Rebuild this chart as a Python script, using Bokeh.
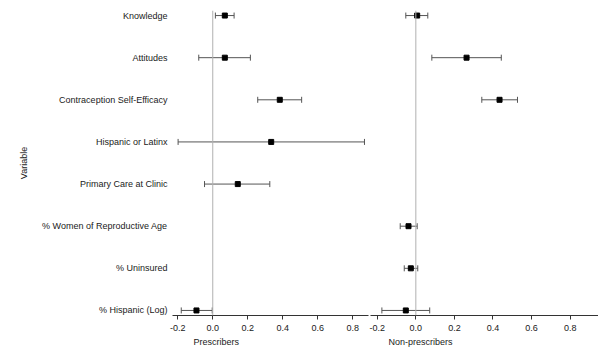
from bokeh.plotting import figure
from bokeh.layouts import row
from bokeh.models import (ColumnDataSource, Whisker, TeeHead, Span, Range1d,
                          FixedTicker, NumeralTickFormatter, Title)
from bokeh.embed import file_html
from bokeh.resources import INLINE

variables = ["Knowledge", "Attitudes", "Contraception Self-Efficacy",
             "Hispanic or Latinx", "Primary Care at Clinic",
             "% Women of Reproductive Age", "% Uninsured", "% Hispanic (Log)"]

presc_est = [0.069, 0.069, 0.383, 0.334, 0.143, None, None, -0.093]
presc_lo = [0.015, -0.080, 0.257, -0.198, -0.047, None, None, -0.180]
presc_hi = [0.122, 0.215, 0.508, 0.867, 0.326, None, None, -0.003]

nonp_est = [0.007, 0.263, 0.434, None, None, -0.038, -0.026, -0.052]
nonp_lo = [-0.052, 0.083, 0.342, None, None, -0.081, -0.060, -0.176]
nonp_hi = [0.062, 0.443, 0.527, None, None, 0.007, 0.010, 0.072]

x_ticks = [-0.2, 0.0, 0.2, 0.4, 0.6, 0.8]
panel_titles = ["Prescribers", "Non-prescribers"]

FONT = "Liberation Sans"
TXT = "#1a1a1a"


def make_panel(est, lo, hi, title, width, x_range, left_border, show_y, title_offset):
    idx = [i for i, e in enumerate(est) if e is not None]
    src = ColumnDataSource(dict(
        y=[i for i in idx],
        est=[est[i] for i in idx],
        lo=[lo[i] for i in idx],
        hi=[hi[i] for i in idx],
    ))
    p = figure(width=width, height=347, output_backend="svg", toolbar_location=None,
               x_range=Range1d(*x_range), y_range=Range1d(7.12, -0.12),
               y_axis_location="left" if show_y else None,
               min_border_left=left_border, min_border_right=1 if show_y else 0,
               min_border_top=10, min_border_bottom=32)
    p.outline_line_color = None
    p.xgrid.grid_line_color = None
    p.ygrid.grid_line_color = None
    p.background_fill_color = "white"
    p.border_fill_color = "white"

    p.add_layout(Span(location=0, dimension="height", line_color="#b0b0b0", line_width=1))

    w = Whisker(source=src, base="y", lower="lo", upper="hi", dimension="width",
                line_color="#555555", line_width=1,
                upper_head=TeeHead(size=6, line_color="#555555", line_width=1),
                lower_head=TeeHead(size=6, line_color="#555555", line_width=1))
    p.add_layout(w)
    p.scatter(x="est", y="y", source=src, marker="square", size=5,
              fill_color="black", line_color="black")

    xa = p.xaxis[0]
    xa.ticker = FixedTicker(ticks=x_ticks)
    xa.formatter = NumeralTickFormatter(format="0.0")
    xa.minor_tick_line_color = None
    xa.major_tick_in = 0
    xa.major_tick_out = 4
    xa.axis_line_color = "#333333"
    xa.major_tick_line_color = "#333333"
    xa.major_label_text_font = FONT
    xa.major_label_text_font_size = "9px"
    xa.major_label_text_color = TXT
    xa.major_label_standoff = 5

    if show_y:
        ya = p.yaxis[0]
        ya.ticker = FixedTicker(ticks=list(range(len(variables))))
        ya.major_label_overrides = {i: v for i, v in enumerate(variables)}
        ya.axis_line_color = None
        ya.major_tick_line_color = None
        ya.minor_tick_line_color = None
        ya.major_tick_out = 0
        ya.major_tick_in = 0
        ya.major_label_text_font = FONT
        ya.major_label_text_font_size = "9px"
        ya.major_label_text_color = TXT
        ya.major_label_standoff = 5
        ya.axis_label = "Variable"
        ya.axis_label_text_font = FONT
        ya.axis_label_text_font_size = "9px"
        ya.axis_label_text_font_style = "normal"
        ya.axis_label_text_color = TXT
        ya.axis_label_standoff = 10

    p.add_layout(Title(text=title, align="left", offset=title_offset, standoff=2,
                       text_font=FONT, text_font_size="9px",
                       text_font_style="normal", text_color=TXT), "below")
    return p


left = make_panel(presc_est, presc_lo, presc_hi, panel_titles[0], 369,
                  (-0.230, 0.890), 172, True, 21)
right = make_panel(nonp_est, nonp_lo, nonp_hi, panel_titles[1], 229,
                   (-0.235, 0.947), 1, False, 18)

layout = row(left, right)
open("out.html", "w").write(file_html(layout, INLINE))
